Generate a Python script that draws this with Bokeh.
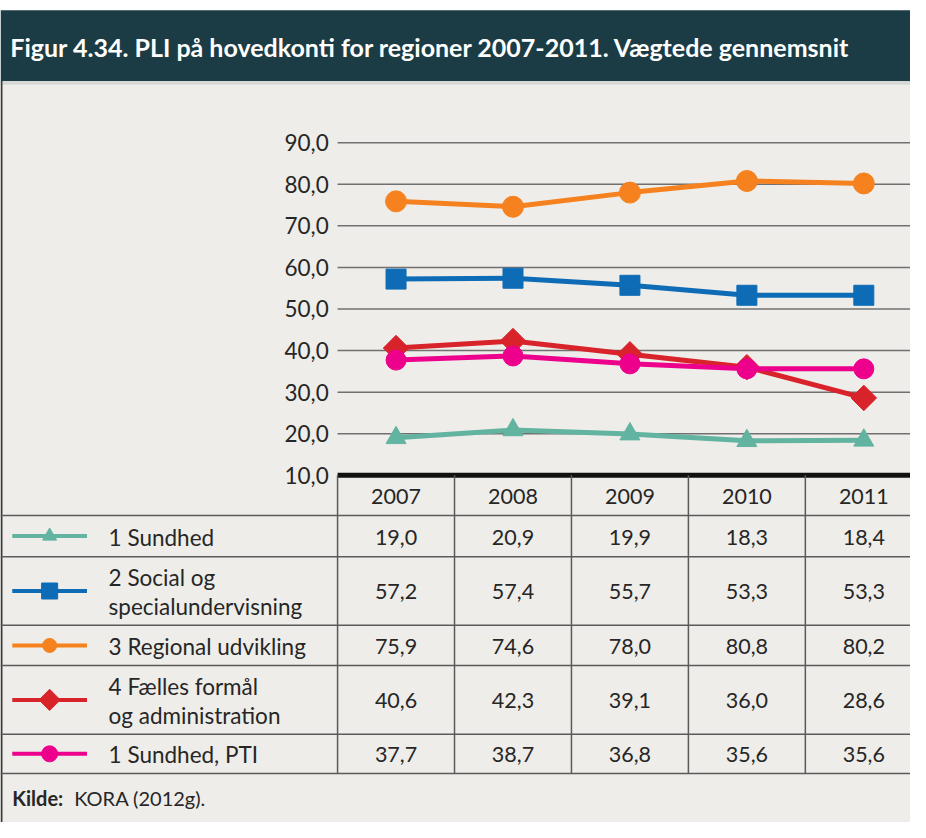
import numpy as np
from bokeh.plotting import figure
from bokeh.models import Range1d
from bokeh.core.properties import value
from bokeh.embed import file_html
from bokeh.resources import INLINE

# ---------------- data ----------------
years = [2007, 2008, 2009, 2010, 2011]
year_labels = ["2007", "2008", "2009", "2010", "2011"]

sundhed = [19.0, 20.9, 19.9, 18.3, 18.4]
social = [57.2, 57.4, 55.7, 53.3, 53.3]
regional = [75.9, 74.6, 78.0, 80.8, 80.2]
faelles = [40.6, 42.3, 39.1, 36.0, 28.6]
sundhed_pti = [37.7, 38.7, 36.8, 35.6, 35.6]

series_labels = [
    ["1 Sundhed"],
    ["2 Social og", "specialundervisning"],
    ["3 Regional udvikling"],
    ["4 Fælles formål", "og administration"],
    ["1 Sundhed, PTI"],
]

y_ticks = [10, 20, 30, 40, 50, 60, 70, 80, 90]
y_tick_labels = ["10,0", "20,0", "30,0", "40,0", "50,0", "60,0", "70,0", "80,0", "90,0"]

title = "Figur 4.34. PLI på hovedkonti for regioner 2007-2011. Vægtede gennemsnit"
source_bold = "Kilde:"
source_text = "KORA (2012g)."

# ---------------- layout helpers (reference pixel frame) ----------------
REF_W, REF_H = 926, 838
W, H = 910, 822


def XR(px):
    return 2007 + (px - 402.5) / 119.0


def YR(py):
    return 10 + (484 - py) / 4.2375


FONT = value("Lato")
TXT = "#262626"

p = figure(width=W, height=H,
           x_range=Range1d(XR(0), XR(REF_W)),
           y_range=Range1d(YR(REF_H), YR(0)),
           output_backend="svg", toolbar_location=None,
           x_axis_location=None, y_axis_location=None,
           min_border=0, outline_line_color=None)
p.grid.visible = False
p.background_fill_color = "white"
p.border_fill_color = "white"

# background panel
p.quad(left=XR(0), right=XR(REF_W), top=YR(84), bottom=YR(REF_H),
       fill_color="#eeede9", line_color=None)
# title bar
p.quad(left=XR(0), right=XR(REF_W), top=YR(10), bottom=YR(82),
       fill_color="#1b3c44", line_color=None)
p.quad(left=XR(0), right=XR(REF_W), top=YR(82), bottom=YR(86),
       fill_color="#d5d8d5", line_color=None)
p.segment(x0=XR(1), y0=YR(82), x1=XR(1), y1=YR(REF_H),
          line_color="#3a3a3a", line_width=2)
p.text(x=[XR(10)], y=[YR(47)], text=[title], text_font=FONT,
       text_font_style="bold", text_font_size="25px", text_color="white",
       text_baseline="middle", text_align="left")

# grid lines
x_left = XR(343)
x_right = XR(REF_W)
gy = y_ticks[1:]
p.segment(x0=[x_left] * len(gy), y0=gy, x1=[x_right] * len(gy), y1=gy,
          line_color="#707070", line_width=1.5)
# y tick labels
p.text(x=[XR(334)] * len(y_ticks), y=y_ticks, text=y_tick_labels,
       text_font=FONT, text_font_size="22.5px", text_color=TXT,
       text_align="right", text_baseline="middle")

# series
colors = ["#63b3a1", "#0d6cb5", "#f5821f", "#d9232b", "#ec008c"]
markers = ["triangle", "square", "circle", "square", "circle"]
angles = [0, 0, 0, np.pi / 4, 0]
sizes = [20, 20, 21, 18, 20]
leg_sizes = [14, 16, 14, 15, 16]
data = [sundhed, social, regional, faelles, sundhed_pti]

for vals, c, m, a, s in zip(data, colors, markers, angles, sizes):
    p.line(years, vals, line_color=c, line_width=5)
    p.scatter(years, vals, marker=m, angle=a, size=s, fill_color=c, line_color=c)

# axis baseline (thick black)
p.segment(x0=[x_left], y0=[10], x1=[x_right], y1=[10],
          line_color="#111111", line_width=5)

# ---------------- table ----------------
row_bounds = [525, 567, 637, 678, 748, 788]
GRID_C = "#5a5a5a"
p.segment(x0=[XR(0)] * len(row_bounds), y0=[YR(b) for b in row_bounds],
          x1=[XR(REF_W)] * len(row_bounds), y1=[YR(b) for b in row_bounds],
          line_color=GRID_C, line_width=1.5)
col_bounds = [y - 0.5 for y in years]
p.segment(x0=col_bounds, y0=[YR(484)] * len(col_bounds),
          x1=col_bounds, y1=[YR(788)] * len(col_bounds),
          line_color=GRID_C, line_width=1.5)

p.text(x=years, y=[YR(506)] * len(years), text=year_labels, text_font=FONT,
       text_font_size="21.5px", text_color=TXT, text_align="center",
       text_baseline="middle")

row_centers = [(row_bounds[i] + row_bounds[i + 1]) / 2 for i in range(5)]
for vals, rc, labels, c, m, a, ls in zip(data, row_centers, series_labels,
                                          colors, markers, angles, leg_sizes):
    txt = [f"{v:.1f}".replace(".", ",") for v in vals]
    p.text(x=years, y=[YR(rc + 1)] * len(years), text=txt, text_font=FONT,
           text_font_size="21.5px", text_color=TXT, text_align="center",
           text_baseline="middle")
    # legend key
    p.line([XR(12), XR(88)], [YR(rc)] * 2, line_color=c, line_width=4)
    p.scatter([XR(50)], [YR(rc)], marker=m, angle=a, size=ls,
              fill_color=c, line_color=c)
    if len(labels) == 1:
        ys = [YR(rc + 1)]
    else:
        ys = [YR(rc - 14), YR(rc + 16)]
    p.text(x=[XR(110)] * len(labels), y=ys, text=labels, text_font=FONT,
           text_font_size="22.5px", text_color=TXT, text_align="left",
           text_baseline="middle")

# source
p.text(x=[XR(12)], y=[YR(813)], text=[source_bold], text_font=FONT,
       text_font_style="bold", text_font_size="20px", text_color=TXT,
       text_baseline="middle")
p.text(x=[XR(75)], y=[YR(813)], text=[source_text], text_font=FONT,
       text_font_size="20px", text_color=TXT, text_baseline="middle")

open("out.html", "w").write(file_html(p, INLINE))
